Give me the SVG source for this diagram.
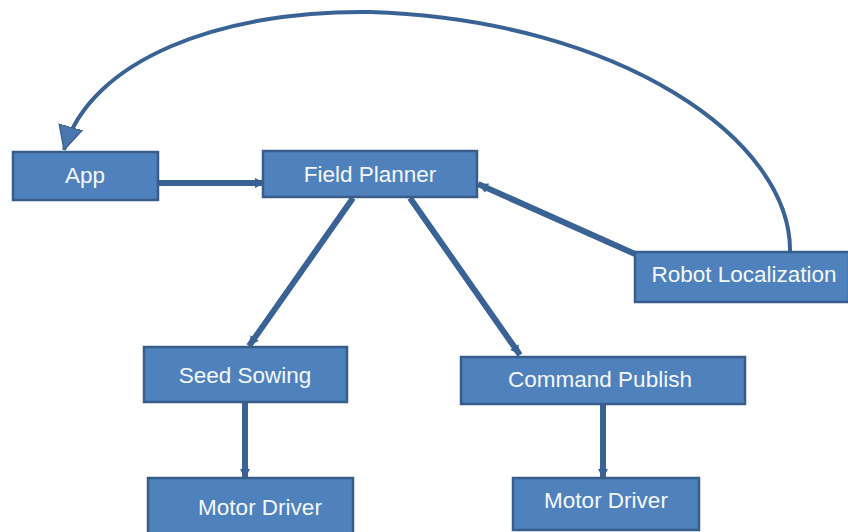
<svg xmlns="http://www.w3.org/2000/svg" width="848" height="532" viewBox="0 0 848 532">
  <defs>
    <style>
      .box { fill: #4F81BD; stroke: #385D8A; stroke-width: 2.5; }
      .lbl { fill: #F4F8FC; font-family: "Liberation Sans", Arial, sans-serif; font-size: 22.5px; text-anchor: middle; }
      .edge { fill: none; stroke: #3A6395; stroke-width: 6; }
      .loop { fill: none; stroke: #3A6395; stroke-width: 4; }
    </style>
    <marker id="head" markerUnits="userSpaceOnUse" viewBox="0 0 10 10" refX="10" refY="5" markerWidth="10" markerHeight="13" orient="auto">
      <path d="M0,0 L10,5 L0,10 z" fill="#3A6395"/>
    </marker>
    <marker id="bighead" markerUnits="userSpaceOnUse" viewBox="0 0 10 10" refX="10" refY="5" markerWidth="24" markerHeight="26" orient="auto">
      <path d="M0,0 L10,5 L0,10 z" fill="#4A76AE" stroke="#3A6395" stroke-width="0.6"/>
    </marker>
  </defs>

  <rect width="848" height="532" fill="#FFFFFF"/>

  <!-- connectors -->
  <g id="connectors">
    <path class="edge" d="M158,183 L265,183" marker-end="url(#head)"/>
    <path class="edge" d="M353,198 L249,346" marker-end="url(#head)"/>
    <path class="edge" d="M410,198 L520,355" marker-end="url(#head)"/>
    <path class="edge" d="M635,254 L478,184" stroke-width="7.5" marker-end="url(#head)"/>
    <path class="edge" d="M245,402 L245,479" marker-end="url(#head)"/>
    <path class="edge" d="M603,404 L603,479" marker-end="url(#head)"/>
    <path class="loop" d="M790,252 C792,140 620,20 370,12 C220,10 90,60 64,150" marker-end="url(#bighead)"/>
  </g>

  <!-- nodes -->
  <g id="app">
    <rect class="box" x="13" y="152" width="145" height="48"/>
    <text class="lbl" x="85" y="183">App</text>
  </g>
  <g id="field-planner">
    <rect class="box" x="263" y="151" width="214" height="46"/>
    <text class="lbl" x="370" y="182">Field Planner</text>
  </g>
  <g id="robot-localization">
    <rect class="box" x="635" y="252" width="214" height="50"/>
    <text class="lbl" x="744" y="282">Robot Localization</text>
  </g>
  <g id="seed-sowing">
    <rect class="box" x="144" y="347" width="203" height="55"/>
    <text class="lbl" x="245" y="383">Seed Sowing</text>
  </g>
  <g id="command-publish">
    <rect class="box" x="461" y="357" width="284" height="47"/>
    <text class="lbl" x="600" y="387">Command Publish</text>
  </g>
  <g id="motor-driver-1">
    <rect class="box" x="148" y="478" width="205" height="58"/>
    <text class="lbl" x="260" y="515">Motor Driver</text>
  </g>
  <g id="motor-driver-2">
    <rect class="box" x="513" y="478" width="186" height="52"/>
    <text class="lbl" x="606" y="508">Motor Driver</text>
  </g>
</svg>
